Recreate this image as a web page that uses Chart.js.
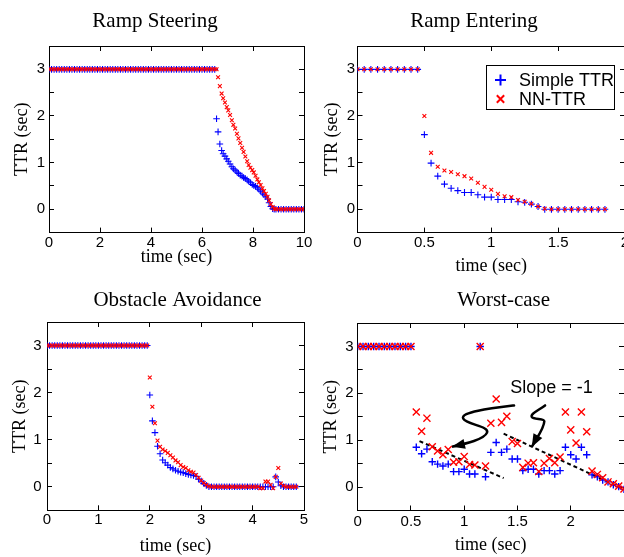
<!DOCTYPE html>
<html>
<head>
<meta charset="utf-8">
<script src="https://cdn.jsdelivr.net/npm/chart.js@4"></script>
<style>
  html, body { margin: 0; padding: 0; background: #fff; overflow: hidden; }
  body { width: 624px; height: 557px; position: relative; }
  canvas { position: absolute; }
</style>
</head>
<body>
<canvas id="rampSteering" width="312" height="280" style="left:0;top:0"></canvas>
<canvas id="rampEntering" width="320" height="280" style="left:312px;top:0"></canvas>
<canvas id="obstacle" width="312" height="277" style="left:0;top:280px"></canvas>
<canvas id="worstCase" width="320" height="277" style="left:312px;top:280px"></canvas>
<script>
// ---- data (sec) ----
var steerTime = [
  0,0.1,0.2,0.3,0.4,0.5,0.6,0.7,0.8,0.9,1,1.1,1.2,1.3,1.4,1.5,1.6,1.7,1.8,1.9,2,2.1,
  2.2,2.3,2.4,2.5,2.6,2.7,2.8,2.9,3,3.1,3.2,3.3,3.4,3.5,3.6,3.7,3.8,3.9,4,4.1,4.2,4.3,
  4.4,4.5,4.6,4.7,4.8,4.9,5,5.1,5.2,5.3,5.4,5.5,5.6,5.7,5.8,5.9,6,6.1,6.2,6.3,6.4,6.5,
  6.57,6.63,6.7,6.77,6.83,6.9,6.97,7.03,7.1,7.17,7.23,7.3,7.37,7.43,7.5,7.57,7.63,7.7,
  7.77,7.83,7.9,7.97,8.03,8.1,8.17,8.23,8.3,8.37,8.43,8.5,8.57,8.63,8.7,8.77,8.83,
  8.9,9,9.1,9.2,9.3,9.4,9.5,9.6,9.7,9.8,9.9,10
];
var steerSimple = [
  3,3,3,3,3,3,3,3,3,3,3,3,3,3,3,3,3,3,3,3,3,3,
  3,3,3,3,3,3,3,3,3,3,3,3,3,3,3,3,3,3,3,3,3,3,
  3,3,3,3,3,3,3,3,3,3,3,3,3,3,3,3,3,3,3,3,3,3,
  1.94,1.66,1.40,1.26,1.19,1.14,1.08,1.03,0.97,0.91,0.87,0.84,0.80,0.77,0.73,0.71,0.68,0.66,
  0.63,0.60,0.57,0.53,0.51,0.49,0.46,0.43,0.39,0.35,0.31,0.27,0.22,0.14,0.06,0.01,0,
  0,0,0,0,0,0,0,0,0,0,0,0
];
var steerNN = [
  3,3,3,3,3,3,3,3,3,3,3,3,3,3,3,3,3,3,3,3,3,3,
  3,3,3,3,3,3,3,3,3,3,3,3,3,3,3,3,3,3,3,3,3,3,
  3,3,3,3,3,3,3,3,3,3,3,3,3,3,3,3,3,3,3,3,3,3,
  3,2.83,2.64,2.48,2.38,2.29,2.19,2.12,2.02,1.91,1.81,1.73,1.62,1.52,1.42,1.32,1.23,1.13,
  1.03,0.95,0.89,0.84,0.79,0.72,0.64,0.58,0.52,0.45,0.39,0.33,0.27,0.19,0.11,0.05,0.01,
  0,0,0,0,0,0,0,0,0,0,0,0
];

var enterTime = [
  0,0.05,0.1,0.15,0.2,0.25,0.3,0.35,0.4,0.45,
  0.5,0.55,0.6,0.65,0.7,0.75,0.8,0.85,0.9,0.95,
  1,1.05,1.1,1.15,1.2,1.25,1.3,1.35,1.4,
  1.45,1.5,1.55,1.6,1.65,1.7,1.75,1.8,1.85
];
var enterSimple = [
  3,3,3,3,3,3,3,3,3,3,
  1.60,0.99,0.71,0.54,0.45,0.40,0.36,0.36,0.31,0.26,
  0.26,0.21,0.21,0.21,0.16,0.15,0.11,0.06,0,
  0,0,0,0,0,0,0,0,0
];
var enterNN = [
  3,3,3,3,3,3,3,3,3,3,
  2.00,1.21,0.91,0.83,0.80,0.75,0.71,0.66,0.57,0.48,
  0.42,0.33,0.28,0.26,0.20,0.16,0.12,0.06,0.01,
  0,0,0,0,0,0,0,0,0
];

var avoidTime = [
  0,0.05,0.1,0.15,0.2,0.25,0.3,0.35,0.4,0.45,0.5,0.55,0.6,0.65,0.7,0.75,0.8,0.85,0.9,0.95,
  1,1.05,1.1,1.15,1.2,1.25,1.3,1.35,1.4,1.45,1.5,1.55,1.6,1.65,1.7,1.75,1.8,1.85,1.9,1.95,
  2,2.05,2.1,2.15,2.2,2.25,2.3,2.35,2.4,2.45,2.5,2.55,2.6,2.65,2.7,2.75,2.8,2.85,2.9,2.95,
  3,3.05,3.1,3.15,3.2,3.25,3.3,3.35,3.4,3.45,3.5,3.55,3.6,3.65,3.7,3.75,3.8,3.85,3.9,3.95,
  4,4.05,4.1,4.15,4.2,4.25,4.3,4.35,4.4,4.45,4.5,4.55,4.6,4.65,4.7,4.75,4.8,4.85
];
var avoidSimple = [
  3,3,3,3,3,3,3,3,3,3,3,3,3,3,3,3,3,3,3,3,
  3,3,3,3,3,3,3,3,3,3,3,3,3,3,3,3,3,3,3,3,
  1.95,1.40,1.15,0.86,0.70,0.57,0.51,0.46,0.41,0.38,0.35,0.33,0.31,0.30,0.28,0.26,0.25,0.24,0.22,0.16,
  0.12,0.07,0.03,0,0,0,0,0,0,0,0,0,0,0,0,0,0,0,0,0,
  0,0,0,0,0,0,0,0,0,0.21,0.10,0.02,0,0,0,0,0,0
];
var avoidNN = [
  3,3,3,3,3,3,3,3,3,3,3,3,3,3,3,3,3,3,3,3,
  3,3,3,3,3,3,3,3,3,3,3,3,3,3,3,3,3,3,3,3,
  2.32,1.70,1.35,0.98,0.85,0.79,0.76,0.72,0.67,0.62,0.56,0.52,0.46,0.42,0.40,0.35,0.32,0.30,0.25,0.19,
  0.13,0.08,0.04,0.01,0,0,0,0,0,0,0,0,0,0,0,0,0,0,0,0,
  0,0,0,-0.03,-0.03,0.11,0.11,0.04,-0.03,0.21,0.40,0.07,0.02,0,0,0,0,0
];

var worstTime = [
  0,0.05,0.1,0.15,0.2,0.25,0.3,0.35,0.4,0.45,0.5,
  0.55,0.6,0.65,0.7,0.75,0.8,0.85,0.9,0.95,1,
  1.05,1.1,1.15,1.2,1.25,1.3,1.35,1.4,1.45,1.5,
  1.55,1.6,1.65,1.7,1.75,1.8,1.85,1.9,1.95,2,
  2.05,2.1,2.15,2.2,2.25,2.3,2.35,2.4,2.45,2.5
];
var worstSimple = [
  3,3,3,3,3,3,3,3,3,3,3,
  0.85,0.71,0.81,0.54,0.49,0.45,0.49,0.33,0.33,0.38,
  0.28,0.28,3,0.22,0.74,0.95,0.74,0.81,0.60,0.60,
  0.35,0.38,0.38,0.28,0.35,0.35,0.28,0.35,0.85,0.69,
  0.60,0.85,0.69,0.26,0.22,0.15,0.11,0.05,0.01,-0.05
];
var worstNN = [
  3,3,3,3,3,3,3,3,3,3,3,
  1.60,1.19,1.47,0.86,0.77,0.69,0.80,0.53,0.54,0.65,
  0.48,0.47,3,0.45,1.36,1.88,1.38,1.51,0.97,0.93,
  0.42,0.51,0.52,0.33,0.51,0.61,0.52,0.64,1.60,1.22,
  0.94,1.60,1.18,0.34,0.27,0.20,0.11,0.07,0.02,-0.04
];

// slope = -1 guide lines and the notes pointing at them (worst-case)
var slopeLineA = [[0.58, 0.98], [1.37, 0.19]];
var slopeLineB = [[1.37, 1.14], [2.5, -0.05]];
var slopeLabel = 'Slope = -1';
var slopeLabelAt = [1.82, 2.12];
var arrowA = [[1.468, 1.742], [1.25, 1.68], [0.96, 1.60], [0.99, 1.462],
              [1.02, 1.33], [1.24, 1.30], [1.214, 1.161], [1.19, 1.02], [1.02, 0.93], [0.885, 0.86]];
var arrowB = [[1.759, 1.742], [1.70, 1.64], [1.62, 1.56], [1.634, 1.499],
              [1.65, 1.44], [1.75, 1.46], [1.752, 1.404], [1.75, 1.25], [1.68, 1.05], [1.634, 0.854]];

var yTicks = [0, 1, 2, 3];

// ---- helpers ----
var SERIF = '"Liberation Serif", "Times New Roman", serif';
var SANS = '"Liberation Sans", Arial, sans-serif';
var BLUE = 'rgb(0,0,255)';
var RED = 'rgb(255,0,0)';

function toPoints(xs, ys) {
  return xs.map(function (t, i) { return { x: t, y: ys[i] }; });
}

function fixSize(prop, size) {
  return function (s) {
    s[prop] = size;
    s.paddingLeft = 0; s.paddingRight = 0; s.paddingTop = 0; s.paddingBottom = 0;
  };
}

function tickGrid() {
  return { drawOnChartArea: false, drawTicks: true, tickLength: -5, color: '#000', lineWidth: 1 };
}

// move the title so it sits where the original figure had it
var titleSpot = {
  id: 'titleSpot',
  afterLayout: function (chart, args, opts) {
    var t = chart.titleBlock;
    if (!t || opts.center == null) return;
    var half = (t.right - t.left) / 2;
    t.left = opts.center - half;
    t.right = opts.center + half;
  }
};

var boxLegend = {
  id: 'boxLegend',
  afterDatasetsDraw: function (chart, args, opts) {
    if (!opts.show) return;
    var c = chart.ctx, a = chart.chartArea;
    var x0 = a.left + opts.dx, y0 = a.top + opts.dy;
    c.save();
    c.fillStyle = '#fff';
    c.fillRect(x0, y0, opts.w, opts.h);
    c.strokeStyle = '#000';
    c.lineWidth = 1;
    c.strokeRect(Math.round(x0) + 0.5, Math.round(y0) + 0.5, opts.w, opts.h);
    c.font = '18px ' + SANS;
    c.textBaseline = 'middle';
    c.textAlign = 'left';
    chart.data.datasets.slice().reverse().forEach(function (ds, i) {
      if (!ds.pointStyle || ds.type === 'line') return;
      var ry = y0 + opts.row0 + i * opts.rowGap;
      c.lineWidth = 2;
      c.strokeStyle = ds.borderColor;
      Chart.helpers.drawPoint(c, { pointStyle: ds.pointStyle, radius: ds.pointStyle === 'cross' ? 5.5 : 5.2, rotation: 0, borderWidth: 2 }, x0 + 14.5, ry);
      c.fillStyle = '#000';
      c.fillText(ds.label, x0 + 33, ry + 1);
    });
    c.restore();
  }
};

var slopeNotes = {
  id: 'slopeNotes',
  afterDatasetsDraw: function (chart, args, opts) {
    if (!opts.show) return;
    var c = chart.ctx, sx = chart.scales.x, sy = chart.scales.y;
    function P(p) { return [sx.getPixelForValue(p[0]), sy.getPixelForValue(p[1])]; }
    c.save();
    c.fillStyle = '#000';
    c.font = '18px ' + SANS;
    c.textAlign = 'center';
    c.textBaseline = 'middle';
    var lp = P(slopeLabelAt);
    c.fillText(slopeLabel, lp[0], lp[1]);
    [arrowA, arrowB].forEach(function (path) {
      var pts = path.map(P);
      c.strokeStyle = '#000';
      c.lineWidth = 2.5;
      c.lineCap = 'round';
      c.beginPath();
      c.moveTo(pts[0][0], pts[0][1]);
      for (var i = 1; i + 2 < pts.length; i += 3) {
        c.bezierCurveTo(pts[i][0], pts[i][1], pts[i + 1][0], pts[i + 1][1], pts[i + 2][0], pts[i + 2][1]);
      }
      var tip = pts[pts.length - 1], prev = pts[pts.length - 2];
      var ang = Math.atan2(tip[1] - prev[1], tip[0] - prev[0]);
      var back = [tip[0] - 8 * Math.cos(ang), tip[1] - 8 * Math.sin(ang)];
      c.lineTo(back[0], back[1]);
      c.stroke();
      c.beginPath();
      c.moveTo(tip[0], tip[1]);
      c.lineTo(tip[0] - 13 * Math.cos(ang) + 5 * Math.sin(ang), tip[1] - 13 * Math.sin(ang) - 5 * Math.cos(ang));
      c.lineTo(tip[0] - 13 * Math.cos(ang) - 5 * Math.sin(ang), tip[1] - 13 * Math.sin(ang) + 5 * Math.cos(ang));
      c.closePath();
      c.fill();
    });
    c.restore();
  }
};

function buildChart(id, o) {
  var datasets = [
    { label: 'NN-TTR', data: toPoints(o.time, o.nn), pointStyle: 'crossRot', pointRadius: o.nnR,
      pointBorderWidth: o.lw, borderColor: RED, backgroundColor: RED, order: 0, xAxisID: 'x', yAxisID: 'y' },
    { label: 'Simple TTR', data: toPoints(o.time, o.simple), pointStyle: 'cross', pointRadius: o.simpleR,
      pointBorderWidth: o.lw, borderColor: BLUE, backgroundColor: BLUE, order: 1, xAxisID: 'x', yAxisID: 'y' }
  ];
  (o.guides || []).forEach(function (g) {
    datasets.push({ type: 'line', label: 'guide', data: g.map(function (p) { return { x: p[0], y: p[1] }; }),
      borderColor: '#000', borderWidth: 2, borderDash: [4, 3], pointRadius: 0, fill: false, showLine: true,
      order: 2, xAxisID: 'x', yAxisID: 'y' });
  });
  var tickFont = { family: SANS, size: 15 };
  return new Chart(document.getElementById(id).getContext('2d'), {
    type: 'scatter',
    data: { datasets: datasets },
    options: {
      responsive: false,
      animation: false,
      events: [],
      layout: { autoPadding: false, padding: { left: 0, right: o.padRight, top: 0, bottom: 0 } },
      plugins: {
        legend: { display: false },
        tooltip: { enabled: false },
        title: { display: true, text: o.title, color: '#000', font: { family: SERIF, size: 21, weight: 'normal' },
                 padding: { top: o.titleTop, bottom: o.titleBottom } },
        titleSpot: { center: o.titleCenter },
        boxLegend: o.legend || { show: false },
        slopeNotes: { show: !!o.notes }
      },
      scales: {
        x: {
          type: 'linear', axis: 'x', position: 'bottom', min: o.xMin, max: o.xMax,
          ticks: { stepSize: o.xStep, autoSkip: false, maxRotation: 0, padding: o.xTickPad, color: '#000', font: tickFont,
                   callback: function (v) { return v > o.xLabelMax + 1e-9 ? '' : Math.round(v * 100) / 100; } },
          grid: tickGrid(),
          border: { display: true, color: '#000', width: 1 },
          title: { display: true, text: 'time (sec)', color: '#000', font: { family: SERIF, size: 18 },
                   padding: { top: 0, bottom: o.xTitlePad } },
          afterFit: fixSize('height', o.xAxisH)
        },
        x2: {
          type: 'linear', axis: 'x', position: 'top', min: o.xMin, max: o.xMax,
          ticks: { stepSize: o.xStep, display: false },
          grid: tickGrid(),
          border: { display: true, color: '#000', width: 1 },
          afterFit: fixSize('height', 0)
        },
        y: {
          type: 'linear', axis: 'y', position: 'left', min: -0.5, max: 3.5,
          ticks: { stepSize: 0.5, autoSkip: false, padding: o.yTickPad, color: '#000', font: tickFont,
                   callback: function (v) { return yTicks.indexOf(v) >= 0 ? v : ''; } },
          grid: tickGrid(),
          border: { display: true, color: '#000', width: 1 },
          title: { display: true, text: 'TTR (sec)', color: '#000', font: { family: SERIF, size: 18 },
                   padding: { top: o.yTitlePad, bottom: 0 } },
          afterFit: fixSize('width', o.yAxisW)
        },
        y2: {
          type: 'linear', axis: 'y', position: 'right', min: -0.5, max: 3.5,
          ticks: { stepSize: 0.5, display: false },
          grid: tickGrid(),
          border: { display: true, color: '#000', width: 1 },
          afterFit: fixSize('width', 0)
        }
      }
    },
    plugins: [titleSpot, boxLegend, slopeNotes]
  });
}

buildChart('rampSteering', {
  title: 'Ramp Steering', time: steerTime, simple: steerSimple, nn: steerNN,
  simpleR: 3.3, nnR: 2.7, lw: 1.1,
  xMin: 0, xMax: 10, xStep: 2, xLabelMax: 10, titleCenter: 155,
  padRight: 8, titleTop: 8.6, titleBottom: 12.2, xAxisH: 47.4, yAxisW: 49,
  xTickPad: 6, yTickPad: 9, xTitlePad: 11.5, yTitlePad: 11
});

buildChart('rampEntering', {
  title: 'Ramp Entering', time: enterTime, simple: enterSimple, nn: enterNN,
  simpleR: 3.4, nnR: 2.7, lw: 1.1,
  xMin: 0, xMax: 2, xStep: 0.5, xLabelMax: 2, titleCenter: 162,
  padRight: 7, titleTop: 8.6, titleBottom: 12.2, xAxisH: 47.4, yAxisW: 45.5,
  xTickPad: 6, yTickPad: 7.5, xTitlePad: 2.5, yTitlePad: 9.2,
  legend: { show: true, dx: 128.5, dy: 19, w: 128, h: 44, row0: 15, rowGap: 19 }
});

buildChart('obstacle', {
  title: 'Obstacle Avoidance', time: avoidTime, simple: avoidSimple, nn: avoidNN,
  simpleR: 3.3, nnR: 2.7, lw: 1.1,
  xMin: 0, xMax: 5, xStep: 1, xLabelMax: 5, titleCenter: 177.5,
  padRight: 8, titleTop: 7.6, titleBottom: 9.2, xAxisH: 46.7, yAxisW: 47,
  xTickPad: 5.7, yTickPad: 10.3, xTitlePad: 0, yTitlePad: 9.2
});

buildChart('worstCase', {
  title: 'Worst-case', time: worstTime, simple: worstSimple, nn: worstNN,
  simpleR: 3.7, nnR: 5, lw: 1.4,
  xMin: 0, xMax: 2.5, xStep: 0.5, xLabelMax: 2, titleCenter: 191.7,
  padRight: 8, titleTop: 7.6, titleBottom: 10.2, xAxisH: 46.5, yAxisW: 45.7,
  xTickPad: 7.2, yTickPad: 9, xTitlePad: 1.2, yTitlePad: 8.5,
  guides: [slopeLineA, slopeLineB], notes: true
});
</script>
</body>
</html>
